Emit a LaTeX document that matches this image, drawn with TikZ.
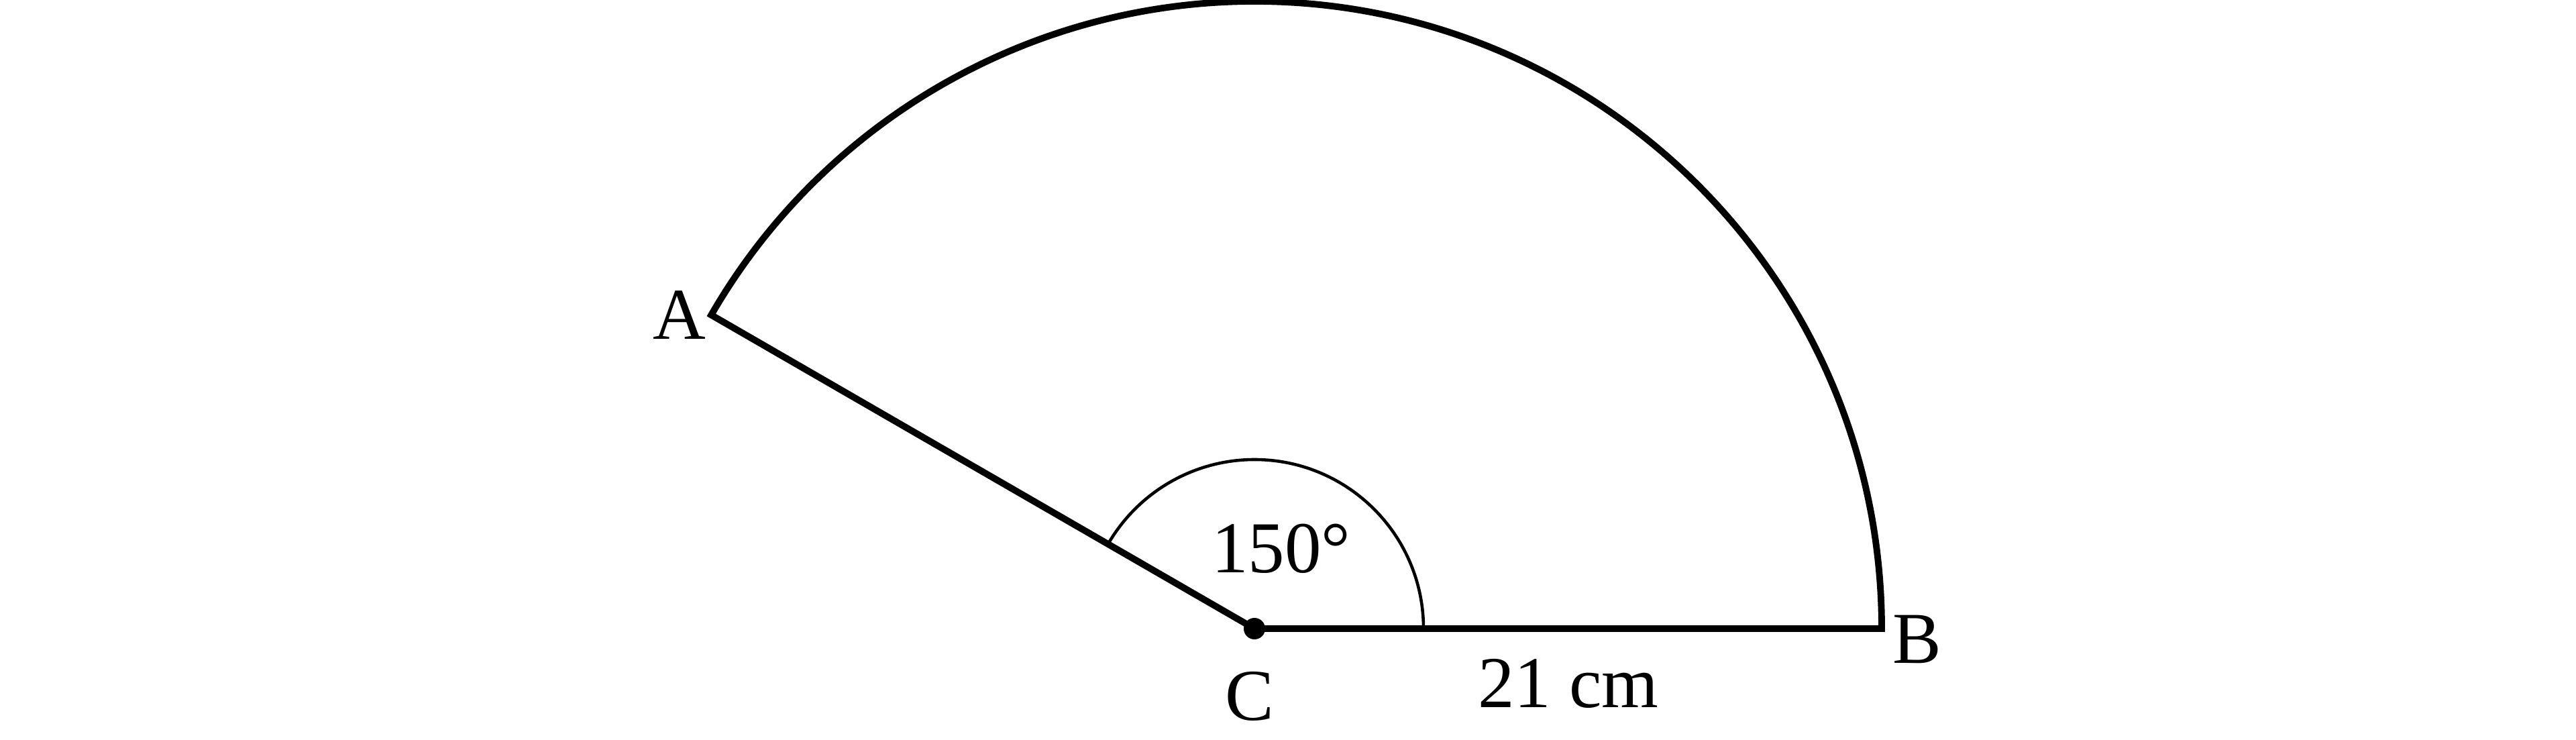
\documentclass[tikz,border=0pt]{standalone}
\usepackage{fontspec}
\setmainfont{Liberation Serif}
\tikzset{
    sector/.style={draw, line width=2.8pt, line join=miter},
    anglearc/.style={draw, line width=1.3pt},
    centredot/.style={fill},
    label/.style={font=\fontsize{31}{36}\selectfont, anchor=base, inner sep=0pt}
}
\begin{document}
\begin{tikzpicture}

% Frame
\useasboundingbox (-18.70,-1.66) rectangle (19.70,9.37);

% Points
\coordinate (C) at (0,0);
\coordinate (A) at (150:9.35);
\coordinate (B) at (9.35,0);

% Sector outline
\draw [sector] (C) -- (B) arc[start angle=0, end angle=150, radius=9.35] -- cycle;

% Angle mark
\draw [anglearc] ([shift={(0:2.52)}]C) arc[start angle=0, end angle=150, radius=2.52];

% Centre
\fill [centredot] (C) circle (0.16);

% Labels
\node (labelA) [label] at (-8.57,4.31) {A};
\node (labelB) [label] at (9.88,-0.52) {B};
\node (labelC) [label] at (-0.07,-1.36) {C};
\node (angle) [label] at (0.40,0.83) {150°};
\node (radius) [label] at (4.68,-1.17) {21 cm};

\end{tikzpicture}
\end{document}
